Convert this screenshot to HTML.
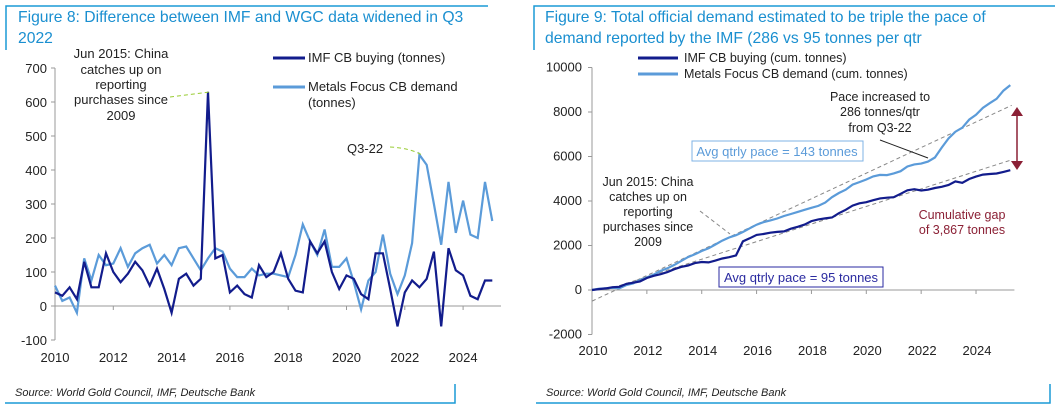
<!DOCTYPE html>
<html><head><meta charset="utf-8"><style>
body{margin:0;width:1060px;height:410px;background:#fff;overflow:hidden;font-family:"Liberation Sans",sans-serif}
svg{position:absolute;left:0;top:0}
</style></head><body>
<svg id="s" width="1060" height="410" xmlns="http://www.w3.org/2000/svg" font-family="Liberation Sans, sans-serif">
<g stroke="#1a9ad6" stroke-width="1.5" fill="none">
<path d="M6,50 V6 H488"/><path d="M5,403 H455 V384"/>
</g>
<g stroke="#1a9ad6" stroke-width="1.5" fill="none">
<path d="M534,50 V6 H1055"/><path d="M536,403 H1050 V384"/>
</g>
<text x="18" y="22" font-size="15.7" fill="#1a8fd0">Figure 8: Difference between IMF and WGC data widened in Q3</text>
<text x="18" y="43" font-size="15.7" fill="#1a8fd0">2022</text>
<text x="545" y="22" font-size="15.7" fill="#1a8fd0">Figure 9: Total official demand estimated to be triple the pace of</text>
<text x="545" y="43" font-size="15.7" fill="#1a8fd0">demand reported by the IMF (286 vs 95 tonnes per qtr</text>
<text x="15" y="396" font-size="11" font-style="italic" fill="#222">Source: World Gold Council, IMF, Deutsche Bank</text>
<text x="546" y="396" font-size="11" font-style="italic" fill="#222">Source: World Gold Council, IMF, Deutsche Bank</text>
<g id="L"></g><g id="R"></g>
</svg>
<script>
const imfQ=[40,30,55,20,130,55,55,155,100,70,95,130,105,60,110,50,-20,80,95,60,80,630,140,150,40,60,35,25,120,85,100,155,80,45,40,190,155,190,100,50,90,80,35,20,155,155,50,-60,40,75,55,80,160,-60,170,105,90,30,20,75,75];
const mfQ=[60,15,25,-20,140,75,150,120,125,170,115,155,170,180,125,150,120,170,175,140,105,140,170,160,110,85,85,110,90,95,95,90,85,150,240,190,150,225,115,115,140,70,-10,75,100,210,95,35,90,185,445,415,300,180,365,215,310,210,200,365,250];
const yearTicks=[2010,2012,2014,2016,2018,2020,2022,2024];
const leftYTicks=[-100,0,100,200,300,400,500,600,700];
const rightYTicks=[-2000,0,2000,4000,6000,8000,10000];
const trendHi=[[2010,-500],[2025.3,8300]];
const trendLo=[[2010.5,0],[2025.3,5850]];
const NS='http://www.w3.org/2000/svg';
function el(p,t,a,txt){const e=document.createElementNS(NS,t);for(const k in a)e.setAttribute(k,a[k]);if(txt!=null)e.textContent=txt;p.appendChild(e);return e;}
const tOf=i=>2010+i*0.25;
// Left
const L=document.getElementById('L');
const lx=t=>55+(t-2010)*29.15, ly=v=>306-v*0.34;
el(L,'line',{x1:55,y1:ly(700),x2:55,y2:ly(-100),stroke:'#999'});
el(L,'line',{x1:55,y1:ly(0),x2:lx(2025.3),y2:ly(0),stroke:'#999'});
leftYTicks.forEach(v=>{const t=el(L,'text',{x:47,y:ly(v)+5,'font-size':13,'text-anchor':'end',fill:'#222'},v);el(L,'line',{x1:51,x2:55,y1:ly(v),y2:ly(v),stroke:'#999'});});
yearTicks.forEach(y=>{const t=el(L,'text',{x:lx(y),y:362,'font-size':13,'text-anchor':'middle',fill:'#222'},y);el(L,'line',{x1:lx(y),x2:lx(y),y1:ly(0),y2:ly(0)+4,stroke:'#999'});});
const pts=(arr,fx,fy)=>arr.map((v,i)=>fx(tOf(i)).toFixed(1)+','+fy(v).toFixed(1)).join(' ');
let p=el(L,'polyline',{points:pts(mfQ,lx,ly),fill:'none',stroke:'#5b9bd9','stroke-width':2.2});

p=el(L,'polyline',{points:pts(imfQ,lx,ly),fill:'none',stroke:'#121c8c','stroke-width':2.2});

[['Jun 2015: China',62],['catches up on',78],['reporting',93],['purchases since',108],['2009',124]].forEach(a=>{const t=el(L,'text',{x:121,y:a[1]-4,'font-size':13,'text-anchor':'middle',fill:'#222'},a[0]);});
el(L,'path',{d:'M170,97 L210,92',stroke:'#9c3',fill:'none','stroke-dasharray':'4,3'});
const q3=el(L,'text',{x:347,y:153,'font-size':13,fill:'#222'},'Q3-22');
el(L,'path',{d:'M390,147 Q410,148 422,155',stroke:'#9c3',fill:'none','stroke-dasharray':'4,3'});
el(L,'line',{x1:273,x2:305,y1:58,y2:58,stroke:'#121c8c','stroke-width':3});
let t=el(L,'text',{x:308,y:62,'font-size':13,fill:'#222'},'IMF CB buying (tonnes)');
el(L,'line',{x1:273,x2:305,y1:87,y2:87,stroke:'#5b9bd9','stroke-width':3});
t=el(L,'text',{x:308,y:91,'font-size':13,fill:'#222'},'Metals Focus CB demand');
el(L,'text',{x:308,y:107,'font-size':13,fill:'#222'},'(tonnes)');
// Right
const R=document.getElementById('R');
const rx=t=>592+(t-2010)*27.43, ry=v=>290-v*0.02225;
el(R,'line',{x1:592,y1:ry(10000),x2:592,y2:ry(-2000),stroke:'#999'});
el(R,'line',{x1:592,y1:ry(0),x2:rx(2025.4),y2:ry(0),stroke:'#999'});
rightYTicks.forEach(v=>{const t=el(R,'text',{x:582,y:ry(v)+4,'font-size':13,'text-anchor':'end',fill:'#222'},v);el(R,'line',{x1:588,x2:592,y1:ry(v),y2:ry(v),stroke:'#999'});});
yearTicks.forEach(y=>{const t=el(R,'text',{x:rx(y)+1,y:355,'font-size':13,'text-anchor':'middle',fill:'#222'},y);el(R,'line',{x1:rx(y),x2:rx(y),y1:ry(0),y2:ry(0)+4,stroke:'#999'});});
const cum=a=>{let s=0;return [0].concat(a.map(v=>s+=v));};
const cpts=(arr,fx,fy)=>arr.map((v,i)=>fx(2010+(i)*0.25).toFixed(1)+','+fy(v).toFixed(1)).join(' ');
[trendHi,trendLo].forEach((tr,k)=>{const l=el(R,'line',{x1:rx(tr[0][0]),y1:ry(tr[0][1]),x2:rx(tr[1][0]),y2:ry(tr[1][1]),stroke:'#888','stroke-dasharray':'4,3'});});
p=el(R,'polyline',{points:cpts(cum(mfQ),rx,ry),fill:'none',stroke:'#5b9bd9','stroke-width':2.2});

p=el(R,'polyline',{points:cpts(cum(imfQ),rx,ry),fill:'none',stroke:'#121c8c','stroke-width':2.2});

el(R,'line',{x1:638,x2:678,y1:58,y2:58,stroke:'#121c8c','stroke-width':3});
t=el(R,'text',{x:684,y:62,'font-size':12.5,fill:'#222'},'IMF CB buying (cum. tonnes)');
el(R,'line',{x1:638,x2:678,y1:74,y2:74,stroke:'#5b9bd9','stroke-width':3});
t=el(R,'text',{x:684,y:78,'font-size':12.5,fill:'#222'},'Metals Focus CB demand (cum. tonnes)');
let b=el(R,'rect',{x:692,y:141,width:171,height:20,fill:'#fff',stroke:'#7fb3e6'});
el(R,'text',{x:777,y:156,'font-size':13,'text-anchor':'middle',fill:'#5b9bd9'},'Avg qtrly pace = 143 tonnes');
b=el(R,'rect',{x:719,y:267,width:164,height:20,fill:'#fff',stroke:'#2a2aa0'});
el(R,'text',{x:801,y:282,'font-size':13,'text-anchor':'middle',fill:'#2a2aa0'},'Avg qtrly pace = 95 tonnes');
[['Pace increased to',101],['286 tonnes/qtr',116],['from  Q3-22',132]].forEach(a=>{const t=el(R,'text',{x:880,y:a[1],'font-size':12.5,'text-anchor':'middle',fill:'#222'},a[0]);});
el(R,'line',{x1:880,y1:140,x2:928,y2:158,stroke:'#222'});
[['Jun 2015: China',186],['catches up on',201],['reporting',216],['purchases since',231],['2009',246]].forEach(a=>{const t=el(R,'text',{x:648,y:a[1],'font-size':12.5,'text-anchor':'middle',fill:'#222'},a[0]);});
el(R,'line',{x1:700,y1:211,x2:730,y2:234,stroke:'#888','stroke-dasharray':'4,3'});
[['Cumulative gap',219],['of 3,867 tonnes',234]].forEach(a=>{const t=el(R,'text',{x:962,y:a[1],'font-size':12.5,'text-anchor':'middle',fill:'#8b2035'},a[0]);});
b=el(R,'g',{});
el(b,'line',{x1:1017,y1:113,x2:1017,y2:164,stroke:'#8b2035','stroke-width':1.5});
el(b,'path',{d:'M1011,116 L1017,107 L1023,116 Z M1011,161 L1017,170 L1023,161 Z',fill:'#8b2035'});
</script>
</body></html>
